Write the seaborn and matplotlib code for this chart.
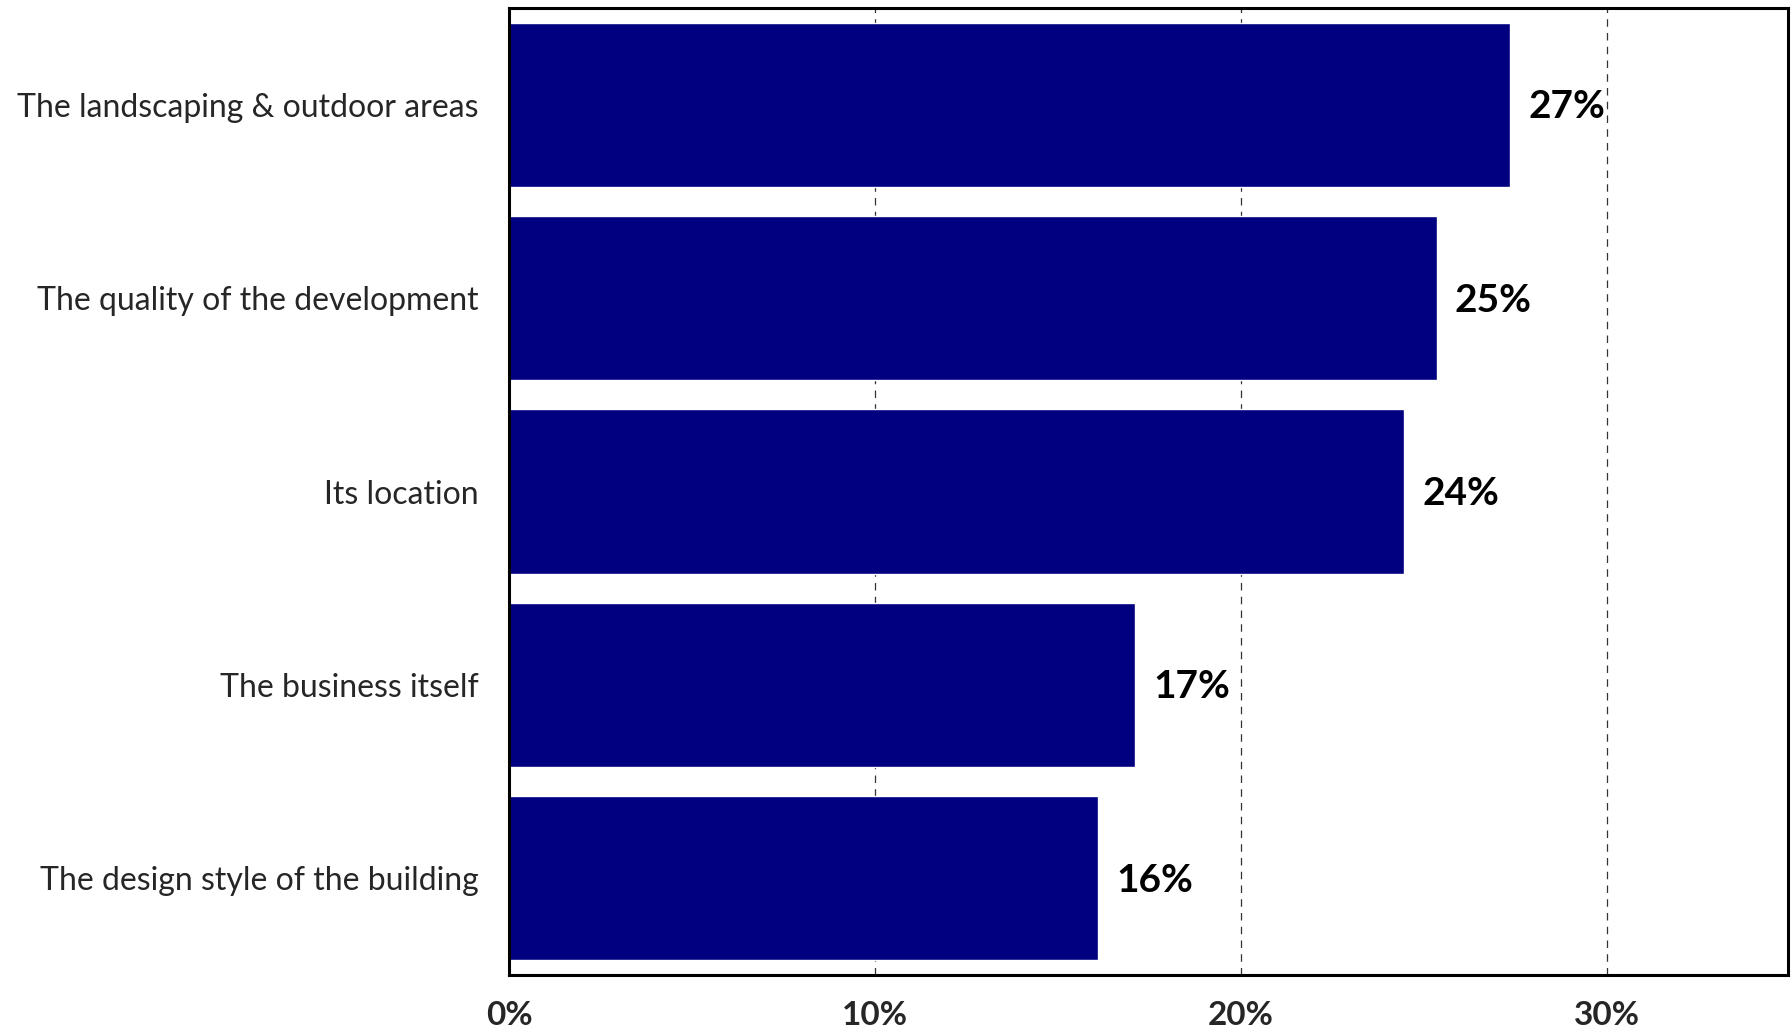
import matplotlib
matplotlib.use("Agg")
import matplotlib.pyplot as plt
import seaborn as sns
import pandas as pd
from matplotlib.ticker import FixedLocator

categories = [
    "The landscaping & outdoor areas",
    "The quality of the development",
    "Its location",
    "The business itself",
    "The design style of the building",
]
shares = [27.35, 25.35, 24.45, 17.1, 16.1]
x_ticks = [0, 10, 20, 30]
x_tick_labels = ["0%", "10%", "20%", "30%"]

df = pd.DataFrame({"category": categories, "share": shares})

sns.set_theme(style="white")
plt.rcParams["font.family"] = ["Lato", "DejaVu Sans"]

fig = plt.figure(figsize=(17.92, 10.35), dpi=100)
ax = fig.add_axes([509 / 1792, 1 - 975 / 1035, (1788 - 509) / 1792, (975 - 8) / 1035])

sns.barplot(data=df, y="category", x="share", orient="h", color="#000080",
            saturation=1, width=0.85, ax=ax, zorder=2)

ax.set_xlim(0, 34.95)
ax.set_ylim(4.5, -0.5)
ax.xaxis.set_major_locator(FixedLocator(x_ticks))
ax.set_xticklabels(x_tick_labels, fontsize=24, fontweight="bold")
ax.tick_params(axis="x", length=0, pad=19)
ax.tick_params(axis="y", length=0, pad=22, labelsize=23)
ax.set_xlabel("")
ax.set_ylabel("")

for x in x_ticks[1:]:
    ax.axvline(x, color="#333333", linestyle=(0, (6, 5)), linewidth=0.9, zorder=1)

for spine in ax.spines.values():
    spine.set_visible(True)
    spine.set_color("black")
    spine.set_linewidth(2.2)

for i, v in enumerate(shares):
    ax.text(v + 0.5, i + 0.01, f"{v:.0f}%", va="center", ha="left",
            fontsize=28, fontweight="bold", color="black")

fig.savefig("out.png", dpi=100)
